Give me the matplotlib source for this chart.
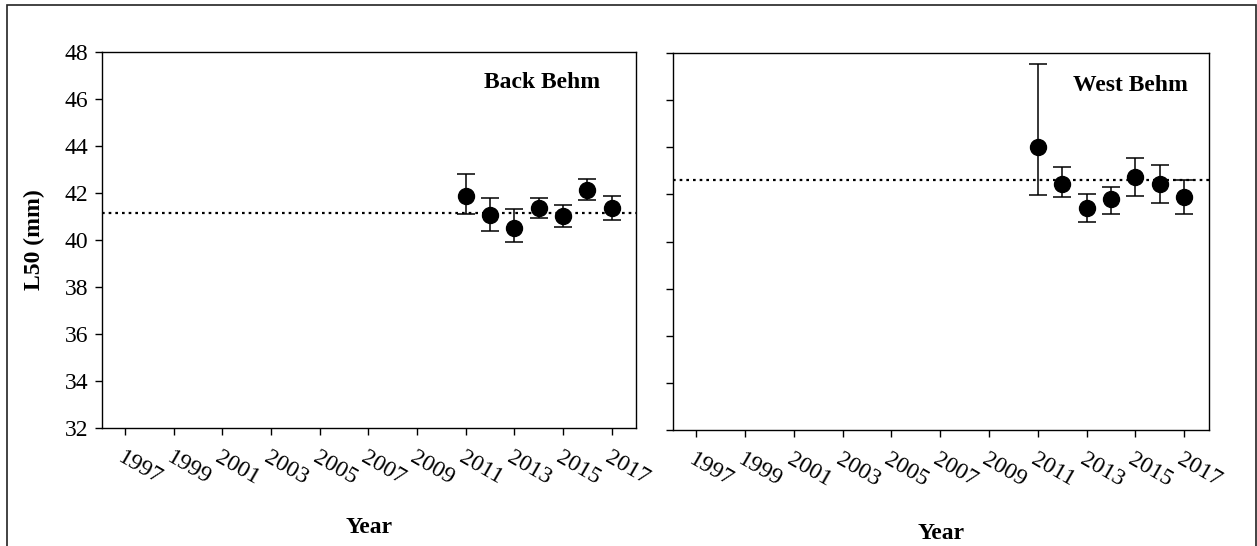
import matplotlib
matplotlib.use("Agg")
import matplotlib.pyplot as plt
from matplotlib.patches import Rectangle

plt.rcParams['font.family'] = ['Liberation Serif', 'DejaVu Serif']

years = [2011, 2012, 2013, 2014, 2015, 2016, 2017]
tick_years = list(range(1997, 2018, 2))

# Back Behm
back_l50 = [41.89, 41.05, 40.52, 41.37, 41.03, 42.11, 41.36]
back_upper = [42.80, 41.79, 41.32, 41.79, 41.48, 42.58, 41.86]
back_lower = [41.09, 40.38, 39.91, 40.94, 40.57, 41.69, 40.84]
back_mean = 41.16

# West Behm
west_l50 = [44.00, 42.44, 41.42, 41.82, 42.74, 42.44, 41.89]
west_upper = [47.54, 43.15, 42.03, 42.33, 43.55, 43.23, 42.63]
west_lower = [41.99, 41.87, 40.81, 41.18, 41.93, 41.65, 41.18]
west_mean = 42.61

panels = [
    ("Back Behm", back_l50, back_upper, back_lower, back_mean,
     [102 / 1257, 118 / 546, 534 / 1257, 376 / 546], (0.933, 0.92)),
    ("West Behm", west_l50, west_upper, west_lower, west_mean,
     [673 / 1257, 116 / 546, 535.5 / 1257, 377 / 546], (0.962, 0.915)),
]

fig = plt.figure(figsize=(12.57, 5.46), dpi=100)

# outer frame round the whole figure
fig.patches.append(Rectangle((7 / 1257, -0.05), 1249 / 1257, 0.05 + 541 / 546,
                             transform=fig.transFigure, fill=False,
                             edgecolor='#222222', linewidth=1.2))

for i, (name, l50, upper, lower, mean, pos, title_xy) in enumerate(panels):
    ax = fig.add_axes(pos)
    err = [[v - lo for v, lo in zip(l50, lower)], [up - v for v, up in zip(l50, upper)]]
    ax.axhline(mean, color='black', linestyle=(0, (1.2, 1.8)), linewidth=1.6, zorder=1)
    ax.errorbar(years, l50, yerr=err, fmt='o', color='black', markersize=11.5,
                ecolor='black', elinewidth=1.1, capsize=6.5, capthick=1.1, zorder=3)
    ax.set_xlim(1996.05, 2018.0)
    ax.set_ylim(32, 48)
    ax.set_yticks(range(32, 49, 2))
    ax.set_xticks(tick_years)
    ax.set_xticklabels([str(y) for y in tick_years], rotation=-30, ha='left',
                       rotation_mode='anchor', fontsize=17)
    ax.tick_params(direction='out', length=5, width=1, labelsize=17, pad=5)
    ax.tick_params(axis='x', pad=9)
    if i == 0:
        ax.set_ylabel("L50 (mm)", fontsize=17, fontweight='bold', labelpad=14)
        xlabel_pad = 20
    else:
        ax.set_yticklabels([])
        xlabel_pad = 23
    ax.text(title_xy[0], title_xy[1], name, transform=ax.transAxes, ha='right',
            va='center', fontsize=17, fontweight='bold')
    ax.set_xlabel("Year", fontsize=17, fontweight='bold', labelpad=xlabel_pad)
    for s in ax.spines.values():
        s.set_linewidth(1)

fig.savefig("out.png", dpi=100)
